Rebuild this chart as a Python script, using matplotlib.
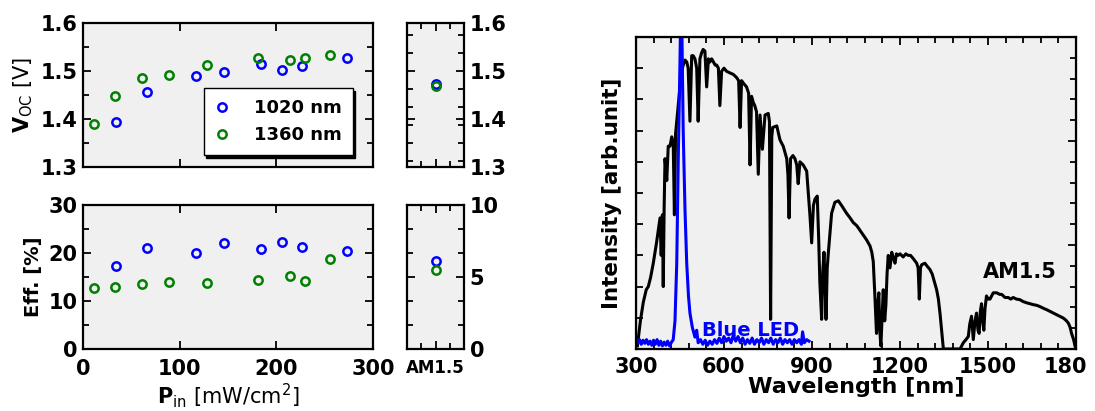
import matplotlib.pyplot as plt
from matplotlib.ticker import MultipleLocator
from matplotlib.transforms import ScaledTranslation

# Voc / efficiency vs input power
pin_1020 = [34, 66, 117, 146, 184, 206, 227, 273]
voc_1020 = [1.394, 1.457, 1.489, 1.498, 1.514, 1.502, 1.511, 1.526]
eff_1020 = [17.2, 21.0, 19.9, 22.1, 20.8, 22.3, 21.2, 20.4]
pin_1360 = [11, 33, 61, 89, 128, 181, 214, 230, 256]
voc_1360 = [1.389, 1.447, 1.486, 1.492, 1.513, 1.528, 1.523, 1.526, 1.534]
eff_1360 = [12.7, 12.9, 13.5, 14.0, 13.7, 14.4, 15.1, 14.2, 18.8]

# AM1.5 point (1020 nm, 1360 nm)
am_voc = [1.473, 1.469]
am_eff = [6.1, 5.5]

# AM1.5 spectrum (arb. units)
am15_nm = [305, 315, 325, 335, 342, 350, 359, 365, 370, 376,
           382, 386, 390, 393, 396, 399, 405, 410, 416, 422,
           427, 431, 435, 439, 445, 450, 456, 461, 467, 473,
           478, 484, 490, 495, 501, 507, 512, 518, 524, 529,
           535, 541, 547, 552, 558, 564, 570, 575, 581, 586,
           592, 600, 609, 620, 632, 643, 650, 655, 660, 668,
           677, 684, 689, 694, 700, 705, 711, 717, 723, 731,
           740, 751, 755, 759, 763, 766, 780, 791, 802, 814,
           818, 822, 827, 835, 842, 848, 853, 859, 870, 882,
           893, 899, 905, 910, 918, 923, 927, 933, 937, 941,
           945, 948, 952, 956, 967, 978, 990, 1001, 1018, 1030,
           1041, 1053, 1064, 1075, 1086, 1098, 1104, 1109, 1115, 1120,
           1124, 1128, 1131, 1135, 1139, 1143, 1148, 1152, 1156, 1160,
           1166, 1172, 1178, 1183, 1188, 1194, 1200, 1211, 1220, 1228,
           1236, 1245, 1257, 1262, 1266, 1270, 1274, 1285, 1293, 1302,
           1310, 1319, 1325, 1331, 1337, 1342, 1348, 1360, 1380, 1405,
           1416, 1425, 1433, 1438, 1444, 1450, 1456, 1461, 1466, 1470,
           1474, 1478, 1482, 1486, 1490, 1495, 1501, 1507, 1518, 1530,
           1540, 1547, 1558, 1569, 1578, 1586, 1597, 1609, 1620, 1632,
           1644, 1655, 1666, 1677, 1690, 1700, 1717, 1734, 1745, 1757,
           1766, 1774, 1780, 1785, 1792, 1797]
am15_int = [0.1, 0.9, 1.5, 1.9, 2.0, 2.3, 2.75, 3.1, 3.4, 3.8,
            4.2, 3.0, 4.3, 2.0, 4.5, 6.1, 5.4, 6.5, 6.5, 6.8,
            6.6, 4.3, 6.9, 7.3, 7.9, 8.4, 8.9, 9.1, 9.26, 9.2,
            9.0, 7.3, 9.4, 9.4, 9.3, 9.0, 7.3, 9.3, 9.5, 9.6,
            9.55, 8.4, 9.3, 9.2, 9.3, 9.2, 9.1, 9.1, 9.0, 7.8,
            8.9, 9.0, 8.9, 8.85, 8.8, 8.7, 8.6, 7.1, 8.6, 8.5,
            8.4, 8.2, 5.9, 8.1, 7.9, 7.8, 7.6, 5.6, 7.5, 6.4,
            7.5, 7.55, 7.3, 0.95, 6.8, 7.1, 7.15, 6.7, 6.5, 6.1,
            5.6, 4.2, 6.1, 6.2, 6.1, 5.9, 5.3, 6.0, 5.9, 5.7,
            4.3, 3.4, 4.6, 4.8, 4.9, 3.5, 2.1, 0.95, 2.5, 3.1,
            2.0, 0.95, 2.6, 3.1, 4.35, 4.7, 4.75, 4.6, 4.35, 4.2,
            4.05, 3.95, 3.8, 3.65, 3.5, 3.3, 3.1, 2.8, 1.6, 0.5,
            1.4, 1.8, 0.6, 0.1, 1.0, 1.9, 0.9, 1.4, 2.4, 3.0,
            2.6, 3.1, 2.9, 2.75, 3.05, 3.0, 3.05, 2.95, 3.05, 3.0,
            3.0, 2.9, 2.75, 2.6, 1.6, 2.6, 2.7, 2.75, 2.65, 2.55,
            2.4, 2.1, 1.9, 1.6, 1.1, 0.6, 0.0, 0.0, 0.0, 0.0,
            0.2, 0.3, 0.4, 0.8, 1.05, 0.3, 0.9, 1.15, 0.6, 0.5,
            1.2, 1.45, 0.9, 0.6, 1.3, 1.7, 1.6, 1.6, 1.8, 1.8,
            1.75, 1.75, 1.65, 1.65, 1.6, 1.65, 1.6, 1.58, 1.52, 1.48,
            1.45, 1.42, 1.4, 1.36, 1.3, 1.26, 1.18, 1.1, 1.05, 0.99,
            0.92, 0.83, 0.7, 0.5, 0.3, 0.09]

# blue LED spectrum
led_nm = [300, 306, 312, 318, 324, 330, 336, 342, 348, 354,
          360, 366, 372, 378, 384, 390, 396, 402, 408, 414,
          420, 427, 433, 439, 444, 450, 453, 456, 461, 467,
          473, 479, 484, 492, 501, 507, 512, 520, 528, 536,
          544, 552, 560, 568, 576, 584, 592, 600, 608, 616,
          624, 632, 640, 648, 656, 664, 672, 680, 688, 696,
          704, 712, 720, 728, 736, 744, 752, 760, 768, 776,
          784, 792, 800, 808, 816, 824, 832, 840, 848, 856,
          864, 868, 874, 882, 890]
led_int = [0.35, 0.2, 0.3, 0.15, 0.28, 0.18, 0.3, 0.15, 0.25, 0.12,
           0.28, 0.15, 0.3, 0.12, 0.25, 0.1, 0.22, 0.12, 0.25, 0.1,
           0.2, 0.3, 0.9, 2.75, 6.0, 9.2, 11.0, 10.6, 7.0, 4.5,
           2.75, 1.7, 1.15, 0.7, 0.38, 0.6, 0.2, 0.3, 0.15, 0.28,
           0.12, 0.25, 0.15, 0.3, 0.18, 0.35, 0.2, 0.4, 0.25, 0.35,
           0.2, 0.45, 0.25, 0.4, 0.2, 0.35, 0.15, 0.3, 0.18, 0.35,
           0.15, 0.3, 0.2, 0.35, 0.15, 0.3, 0.2, 0.35, 0.15, 0.3,
           0.2, 0.35, 0.15, 0.3, 0.2, 0.3, 0.15, 0.3, 0.2, 0.3,
           0.15, 0.55, 0.2, 0.3, 0.25]

wl_ticks = [300, 600, 900, 1200, 1500, 1800]
wl_labels = ['300', '600', '900', '1200', '1500', '180']

assert len(am15_nm) == len(am15_int)
assert len(led_nm) == len(led_int)

plt.rcParams['font.family'] = 'DejaVu Sans'
plt.rcParams['font.weight'] = 'bold'
plt.rcParams['mathtext.fontset'] = 'custom'
plt.rcParams['mathtext.rm'] = 'DejaVu Sans:weight=normal'
plt.rcParams['mathtext.bf'] = 'DejaVu Sans:weight=bold'

blue = '#0000ff'
green = '#008000'
mk = dict(ls='none', marker='o', ms=6, mfc='none', mew=1.8)


def style(ax):
    ax.set_facecolor('#f0f0f0')
    for s in ax.spines.values():
        s.set_linewidth(1.6)
    ax.tick_params(which='both', direction='in', top=True, right=True,
                   width=1.3, labelsize=15, pad=4)
    ax.tick_params(which='major', length=6)
    ax.tick_params(which='minor', length=4)


fig = plt.figure(figsize=(10.95, 4.11), dpi=100)

# top left: Voc
ax1 = fig.add_axes([0.0758, 0.5937, 0.2648, 0.3504])
style(ax1)
ax1.plot(pin_1020, voc_1020, color=blue, label='1020 nm', **mk)
ax1.plot(pin_1360, voc_1360, color=green, label='1360 nm', **mk)
ax1.set_xlim(0, 300)
ax1.set_ylim(1.3, 1.6)
ax1.set_xticks([0, 100, 200, 300])
ax1.set_xticklabels([])
ax1.yaxis.set_major_locator(MultipleLocator(0.1))
ax1.yaxis.set_minor_locator(MultipleLocator(0.05))
ax1.set_ylabel(r'$\mathbf{V}_{\mathrm{OC}}$ [V]', fontsize=15,
               fontweight='normal', labelpad=4)
leg = ax1.legend(loc='lower right', bbox_to_anchor=(0.93, 0.083),
                 borderaxespad=0, fancybox=False, handlelength=0.9,
                 handletextpad=1.3, prop={'size': 13, 'weight': 'bold'},
                 borderpad=0.6,
                 shadow={'color': 'black', 'alpha': 1, 'ox': 2, 'oy': -2})
leg.get_frame().set_edgecolor('black')
leg.get_frame().set_linewidth(1.0)

# bottom left: efficiency
ax2 = fig.add_axes([0.0758, 0.1509, 0.2648, 0.3504])
style(ax2)
ax2.plot(pin_1020, eff_1020, color=blue, **mk)
ax2.plot(pin_1360, eff_1360, color=green, **mk)
ax2.set_xlim(0, 300)
ax2.set_ylim(0, 30)
ax2.set_xticks([0, 100, 200, 300])
ax2.yaxis.set_major_locator(MultipleLocator(10))
ax2.yaxis.set_minor_locator(MultipleLocator(5))
ax2.tick_params(axis='x', pad=7)
ax2.set_ylabel('Eff. [%]', fontsize=14, fontweight='bold', labelpad=4)
ax2.set_xlabel(r'$\mathbf{P}_{\mathrm{in}}$ [mW/cm$^{\mathrm{2}}$]',
               fontsize=15, fontweight='normal', labelpad=2)

# small panels: AM1.5
ax3 = fig.add_axes([0.3717, 0.5937, 0.0521, 0.3504])
style(ax3)
ax3.plot([2], am_voc[:1], color=blue, **mk)
ax3.plot([2], am_voc[1:], color=green, **mk)
ax3.set_xlim(0, 4)
ax3.set_ylim(1.3, 1.6)
ax3.set_xticks([2])
ax3.set_xticks([1, 3], minor=True)
ax3.set_xticklabels([])
ax3.yaxis.set_major_locator(MultipleLocator(0.1))
ax3.yaxis.set_minor_locator(MultipleLocator(0.0375))
ax3.tick_params(axis='y', labelleft=False, labelright=True)

ax4 = fig.add_axes([0.3717, 0.1509, 0.0521, 0.3504])
style(ax4)
ax4.plot([2], am_eff[:1], color=blue, **mk)
ax4.plot([2], am_eff[1:], color=green, **mk)
ax4.set_xlim(0, 4)
ax4.set_ylim(0, 10)
ax4.set_xticks([2])
ax4.set_xticks([1, 3], minor=True)
ax4.set_xticklabels(['AM1.5'], fontsize=12)
ax4.tick_params(axis='x', pad=7)
ax4.yaxis.set_major_locator(MultipleLocator(5))
ax4.yaxis.set_minor_locator(MultipleLocator(5 / 3))
ax4.tick_params(axis='y', labelleft=False, labelright=True)

# right: spectra
ax5 = fig.add_axes([0.5808, 0.1509, 0.4018, 0.7591])
style(ax5)
ax5.plot(am15_nm, am15_int, color='black', lw=2.2)
ax5.plot(led_nm, led_int, color=blue, lw=2.2)
ax5.set_xlim(300, 1800)
ax5.set_ylim(0, 10)
ax5.set_xticks(wl_ticks)
ax5.set_xticklabels(wl_labels)
ax5.xaxis.set_minor_locator(MultipleLocator(60))
ax5.set_yticks(range(0, 11))
ax5.set_yticklabels([])
ax5.tick_params(axis='y', right=False, length=5)
ax5.tick_params(axis='x', pad=6)
last = ax5.get_xticklabels()[-1]
last.set_transform(last.get_transform()
                   + ScaledTranslation(-0.11, 0, fig.dpi_scale_trans))
ax5.text(689, 0.6, 'Blue LED', color=blue, fontsize=14, fontweight='bold',
         ha='center', va='center')
ax5.text(1609, 2.47, 'AM1.5', color='black', fontsize=15, fontweight='bold',
         ha='center', va='center')
ax5.set_xlabel('Wavelength [nm]', fontsize=16, fontweight='bold', labelpad=0)
ax5.set_ylabel('Intensity [arb.unit]', fontsize=15.5, fontweight='bold',
               labelpad=6)

ax6 = ax5.twinx()
ax6.set_ylim(0, 15)
ax6.yaxis.set_major_locator(MultipleLocator(5))
ax6.yaxis.set_minor_locator(MultipleLocator(1))
ax6.tick_params(which='both', direction='in', labelright=False, width=1.3)
ax6.tick_params(which='major', length=6)
ax6.tick_params(which='minor', length=4)

fig.savefig('out.png', dpi=100)
